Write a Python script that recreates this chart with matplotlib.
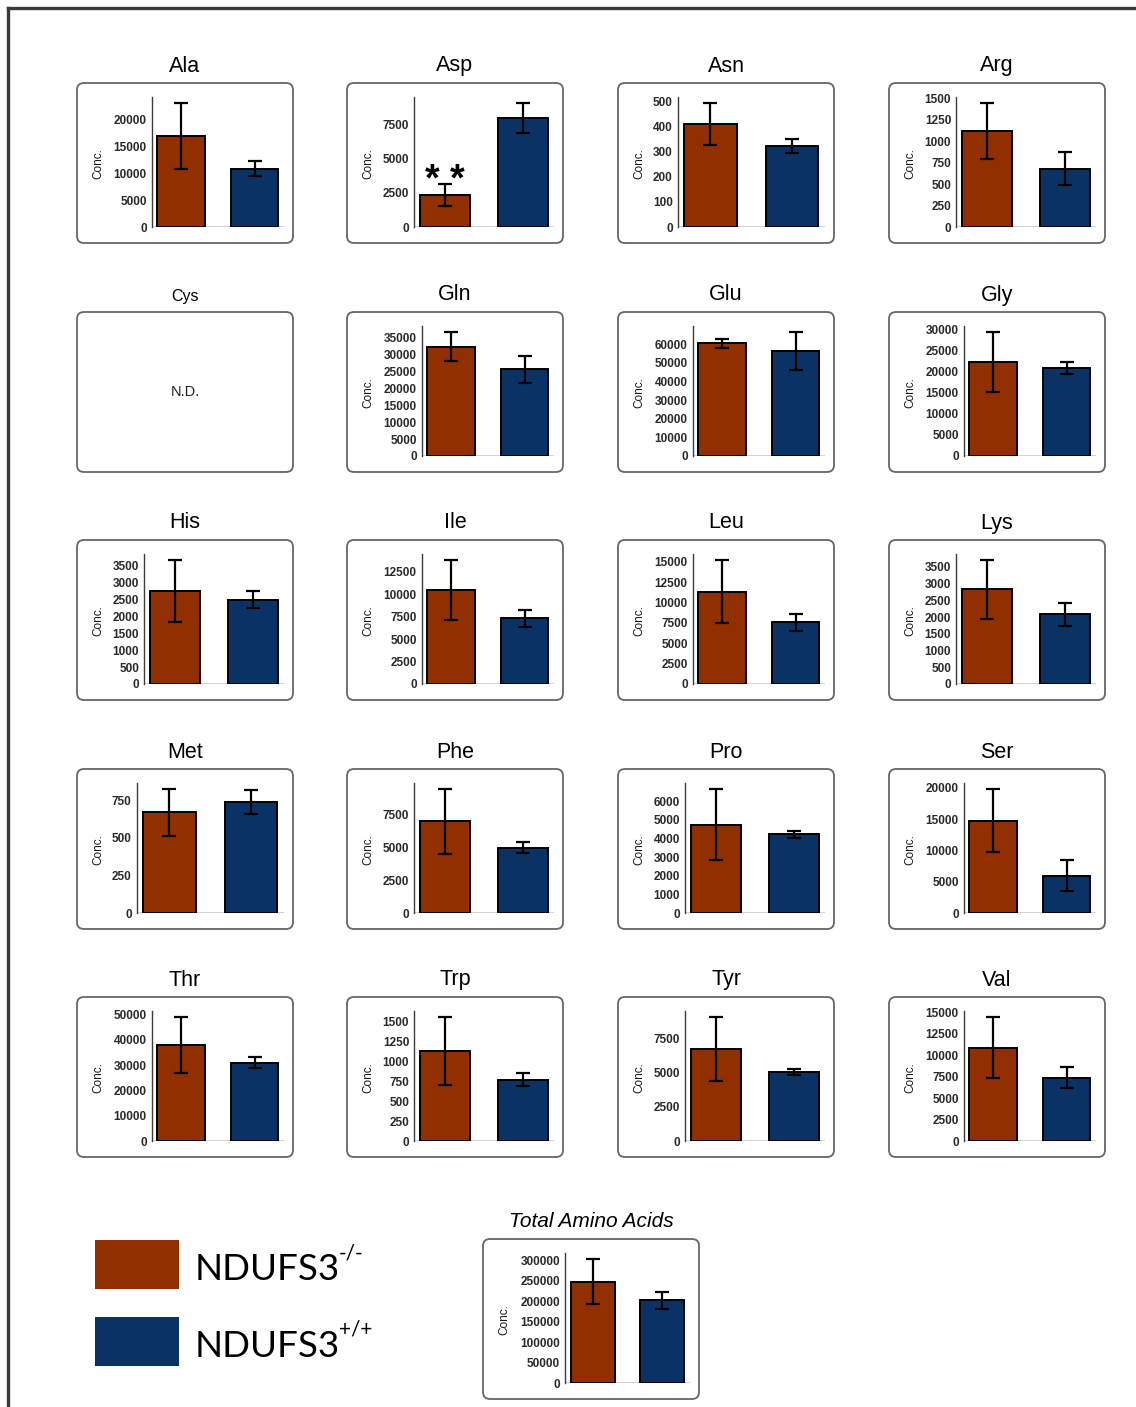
import numpy as np
import matplotlib
matplotlib.use('Agg')
import matplotlib.pyplot as plt
from matplotlib.patches import FancyBboxPatch, Rectangle
from matplotlib.ticker import MultipleLocator, StrMethodFormatter

plt.rcParams['font.family'] = ['Liberation Sans', 'DejaVu Sans']

KO_COL = '#912f00'
WT_COL = '#0b3264'

# ── amino acid concentrations (mean ± error), NDUFS3-/- vs NDUFS3+/+ ─────────
acids = ['Ala', 'Asp', 'Asn', 'Arg', 'Cys', 'Gln', 'Glu', 'Gly', 'His', 'Ile',
         'Leu', 'Lys', 'Met', 'Phe', 'Pro', 'Ser', 'Thr', 'Trp', 'Tyr', 'Val']
ko_mean = [16900, 2370, 410, 1120, None, 32300, 60500, 22300, 2740, 10440,
           11350, 2830, 670, 7000, 4740, 14760, 37930, 1133, 6745, 10875]
ko_err  = [6100, 790, 83, 323, None, 4270, 2300, 7130, 909, 3345,
           3850, 872, 155, 2460, 1900, 5020, 11000, 427, 2336, 3530]
wt_mean = [10800, 8000, 322, 681, None, 25560, 56290, 20910, 2489, 7316,
           7580, 2080, 741, 5000, 4225, 5980, 30970, 771, 5064, 7366]
wt_err  = [1400, 1100, 27, 188, None, 4090, 10150, 1370, 243, 970,
           1050, 355, 80, 430, 185, 2485, 2300, 81, 244, 1215]
tick_step = [5000, 2500, 100, 250, None, 5000, 10000, 5000, 500, 2500,
             2500, 500, 250, 2500, 1000, 5000, 10000, 250, 2500, 2500]
sig_marks = ['', '**', '', '', '', '', '', '', '', '',
             '', '', '', '', '', '', '', '', '', '']

total_label = 'Total Amino Acids'
total_ko_mean, total_ko_err = 248200, 54600
total_wt_mean, total_wt_err = 202200, 21400
total_step = 50000

groups = ['NDUFS3', 'NDUFS3']
group_sup = ['-/-', '+/+']

# ── canvas: one full-size axes in pixel units for boxes and labels ───────────
W, H = 1136, 1407
fig = plt.figure(figsize=(W / 100, H / 100), dpi=100)
bg = fig.add_axes([0, 0, 1, 1])
bg.set_xlim(0, W)
bg.set_ylim(H, 0)
bg.axis('off')

# outer frame (left and top edges)
bg.plot([8, 8], [H, 8], color='#3a3a3a', lw=2.4, solid_capstyle='projecting')
bg.plot([8, W], [8, 8], color='#3a3a3a', lw=2.4, solid_capstyle='projecting')

COL_X = [77, 347, 618, 889]
ROW_Y = [83, 312, 540, 769, 997]
BOX_W, BOX_H = 216, 160


def draw_box(x0, y0):
    bg.add_patch(FancyBboxPatch((x0, y0), BOX_W, BOX_H,
                                boxstyle='round,pad=0,rounding_size=7',
                                fc='white', ec='#666666', lw=1.3))


def bar_panel(x0, y0, means, errs, step, mark=''):
    top = max(m + e for m, e in zip(means, errs)) * 1.05
    ndig = len(str(int(top // step) * step))
    ax_l = x0 + 37 + 7.5 * ndig
    ax_r = x0 + BOX_W - 9
    ax_t = y0 + 14
    ax_b = y0 + BOX_H - 16
    ax = fig.add_axes([ax_l / W, 1 - ax_b / H, (ax_r - ax_l) / W, (ax_b - ax_t) / H])
    ax.patch.set_alpha(0)
    ax.axhline(0, color='#cccccc', lw=1.2, zorder=0)
    ax.bar([1, 2], means, width=0.64, color=[KO_COL, WT_COL],
           edgecolor='black', lw=1.4, zorder=2)
    ax.errorbar([1, 2], means, yerr=errs, fmt='none', ecolor='black',
                elinewidth=1.6, capsize=5, capthick=1.6, zorder=3)
    ax.set_xlim(0.6, 2.4)
    ax.set_ylim(0, top)
    ax.yaxis.set_major_locator(MultipleLocator(step))
    ax.yaxis.set_major_formatter(StrMethodFormatter('{x:.0f}'))
    ax.set_xticks([])
    ax.tick_params(axis='y', length=0, pad=3.5, labelsize=8.5, labelcolor='#2a2a2a')
    for lab in ax.get_yticklabels():
        lab.set_fontweight('bold')
    for s in ['top', 'right', 'bottom']:
        ax.spines[s].set_visible(False)
    ax.spines['left'].set_color('#3c3c3c')
    ax.spines['left'].set_linewidth(1.0)
    bg.text(x0 + 21, (ax_t + ax_b) / 2 + 2, 'Conc.', rotation=90,
            ha='center', va='center', fontsize=8.5, color='#1a1a1a')
    if mark:
        ax.annotate(' '.join(mark), xy=(1, means[0] + errs[0]), xytext=(0, -5),
                    textcoords='offset points', ha='center', va='baseline',
                    fontsize=27, fontweight='bold')
    return ax


# ── 5 x 4 grid of amino acid panels ──────────────────────────────────────────
for i, name in enumerate(acids):
    x0 = COL_X[i % 4]
    y0 = ROW_Y[i // 4]
    draw_box(x0, y0)
    if ko_mean[i] is None:
        bg.text(x0 + BOX_W / 2, y0 - 11.5, name, ha='center', va='baseline', fontsize=11.5)
        bg.text(x0 + BOX_W / 2, y0 + BOX_H / 2, 'N.D.', ha='center', va='center',
                fontsize=10.5, color='#222222')
        continue
    bg.text(x0 + BOX_W / 2, y0 - 11.5, name, ha='center', va='baseline', fontsize=15.5)
    bar_panel(x0, y0, [ko_mean[i], wt_mean[i]], [ko_err[i], wt_err[i]],
              tick_step[i], sig_marks[i])

# ── total amino acids ────────────────────────────────────────────────────────
tx, ty = 483, 1239
draw_box(tx, ty)
bg.text(tx + BOX_W / 2, ty - 12, total_label, ha='center', va='baseline',
        fontsize=15, style='italic')
bar_panel(tx, ty, [total_ko_mean, total_wt_mean], [total_ko_err, total_wt_err], total_step)

# ── legend ───────────────────────────────────────────────────────────────────
renderer = fig.canvas.get_renderer()
leg_y = [1240, 1317]
for col, y, name, sup in zip([KO_COL, WT_COL], leg_y, groups, group_sup):
    bg.add_patch(Rectangle((95, y), 84, 49, fc=col, ec='none'))
    t = bg.text(195, y + 40, name, fontfamily='Lato', fontsize=26.5, va='baseline')
    x_end = t.get_window_extent(renderer).x1
    bg.text(x_end - 1, y + 19, sup, fontfamily='Lato', fontsize=15, va='baseline')

fig.savefig('out.png', dpi=100)
